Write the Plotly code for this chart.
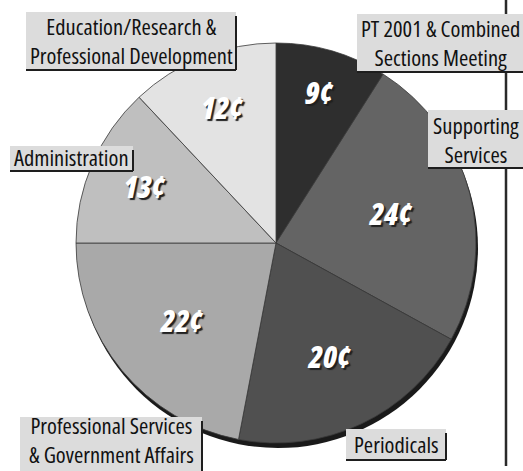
import plotly.graph_objects as go

# ---- data ----
categories = ["PT 2001 & Combined Sections Meeting", "Supporting Services", "Periodicals",
              "Professional Services & Government Affairs", "Administration",
              "Education/Research & Professional Development"]
values = [9, 24, 20, 22, 13, 12]
value_labels = ["9¢", "24¢", "20¢", "22¢", "13¢", "12¢"]
slice_colors = ["#2e2e2e", "#646464", "#505050", "#a9a9a9", "#bfbfbf", "#e3e3e3"]
box_labels = [
    ["Education/Research &", "Professional Development"],
    ["PT 2001 & Combined", "Sections Meeting"],
    ["Supporting", "Services"],
    ["Administration"],
    ["Professional Services", "& Government Affairs"],
    ["Periodicals"],
]

W, H = 523, 471
FONT = "Open Sans, sans-serif"

def px(x):
    return x / W

def py(y):
    return 1 - y / H

def cond(t):
    return '<span style="font-stretch:75%">' + t + '</span>'

# pie geometry (pixels)
cx, cy, R = 276, 243, 200

fig = go.Figure()

# shadow rim under the pie
fig.add_trace(go.Pie(
    values=[sum(values)], marker=dict(colors=["#1a1a1a"], line=dict(width=0)),
    textinfo="none", hoverinfo="skip", showlegend=False, sort=False,
    domain=dict(x=[px(cx - R + 2), px(cx + R + 2)], y=[py(cy + R + 5), py(cy - R + 5)]),
))

fig.add_trace(go.Pie(
    labels=categories, values=values, text=[cond(v) for v in value_labels],
    texttemplate="%{text}", textposition="inside", insidetextorientation="horizontal",
    textfont=dict(family=FONT, size=30, color="white", weight=800, style="italic",
                  shadow="2px 2px 1px #202020"),
    marker=dict(colors=slice_colors, line=dict(color="#3a3a3a", width=0.8)),
    sort=False, direction="clockwise", rotation=0, showlegend=False, hoverinfo="label+value",
    domain=dict(x=[px(cx - R), px(cx + R)], y=[py(cy + R), py(cy - R)]),
))

shapes = []
annotations = []

# right-hand rule line
shapes.append(dict(type="line", xref="paper", yref="paper", x0=px(506), x1=px(506),
                   y0=py(0), y1=py(466), line=dict(color="#2a2a2a", width=2.5), layer="above"))

# label box geometry: x0, x1, y0, y1, text centre y
box_geom = [
    (26, 236, 12, 70, 41),
    (357, 530, 14, 72, 43),
    (428, 530, 110, 168, 140),
    (10, 133, 146, 171, 158),
    (20, 202, 417, 475, 440),
    (346, 446, 429, 460, 444),
]

for lines, (x0, x1, y0, y1, yc) in zip(box_labels, box_geom):
    shapes.append(dict(type="rect", xref="paper", yref="paper", x0=px(x0), x1=px(x1),
                       y0=py(y1), y1=py(y0), fillcolor="#dcdcdc", line=dict(width=0),
                       layer="above"))
    shapes.append(dict(type="line", xref="paper", yref="paper", x0=px(x1), x1=px(x1),
                       y0=py(y1), y1=py(y0 + 4), line=dict(color="#1e1e1e", width=2),
                       layer="above"))
    shapes.append(dict(type="line", xref="paper", yref="paper", x0=px(x0), x1=px(x1),
                       y0=py(y1), y1=py(y1), line=dict(color="#1e1e1e", width=2),
                       layer="above"))
    xc = (x0 + min(x1, 523)) / 2
    annotations.append(dict(text="<br>".join(cond(t) for t in lines), x=px(xc), y=py(yc),
                            xref="paper", yref="paper", showarrow=False,
                            xanchor="center", yanchor="middle", align="center",
                            font=dict(family=FONT, size=22.5, color="#111111", weight=500)))

fig.update_layout(
    width=W, height=H, margin=dict(l=0, r=0, t=0, b=0),
    paper_bgcolor="white", plot_bgcolor="white",
    shapes=shapes, annotations=annotations,
)

fig.write_html("out.html", config={"displayModeBar": False},
               post_script="document.body.style.margin='0';")
